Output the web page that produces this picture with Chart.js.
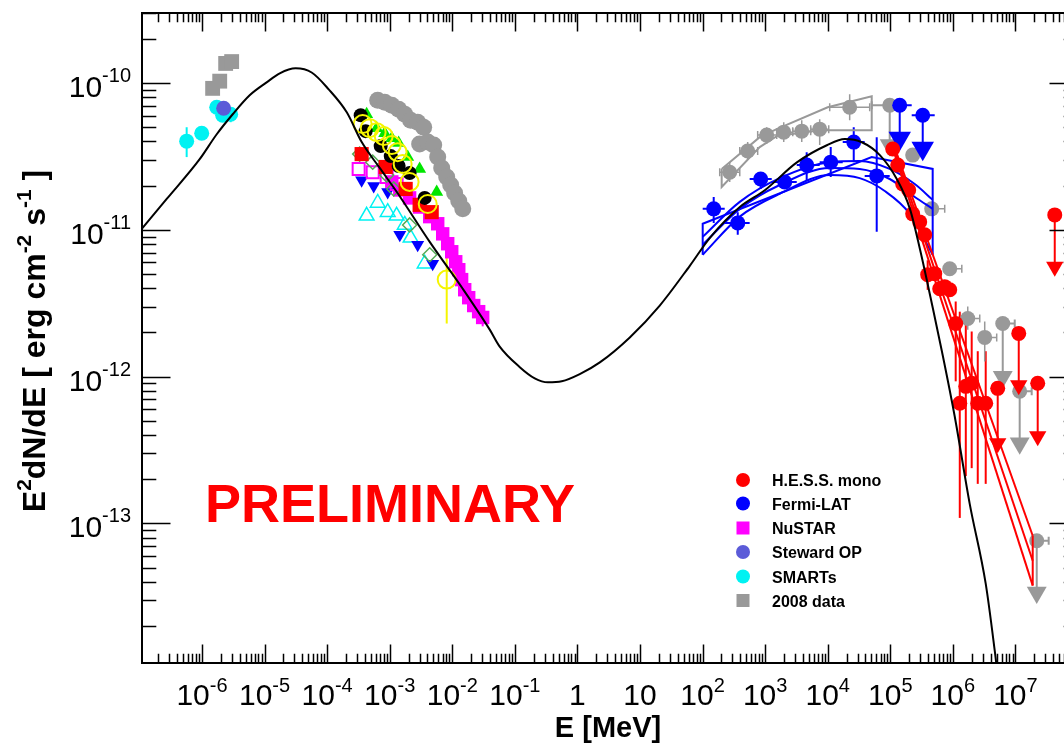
<!DOCTYPE html>
<html><head><meta charset="utf-8">
<style>html,body{margin:0;padding:0;overflow:hidden;background:#fff;width:1064px;height:743px}canvas{display:block}</style>
<script src="https://cdn.jsdelivr.net/npm/chart.js@4.4.1/dist/chart.umd.min.js"></script>
</head><body>
<canvas id="c" width="1100" height="743" style="width:1100px;height:743px"></canvas>
<script>
// ---------- axis settings / tick labels ----------
const X_MIN = 1.1e-7, X_MAX = 1e8, Y_MIN = 1.12e-14, Y_MAX = 3e-10;
const xTickExponents = [-6,-5,-4,-3,-2,-1,0,1,2,3,4,5,6,7];
const yTickExponents = [-13,-12,-11,-10];
const xTitle = 'E [MeV]';
const yTitleParts = [['E',0],['2',1],['dN/dE [ erg cm',0],['-2',1],[' s',0],['-1',1],[' ]',0]];
const watermark = 'PRELIMINARY';
const legendLabels = ['H.E.S.S. mono','Fermi-LAT','NuSTAR','Steward OP','SMARTs','2008 data'];

// ---------- data: [E (MeV), E2dN/dE (erg cm-2 s-1), Elo, Ehi, Flo, Fhi] ----------
const modelCurve = [[1.09e-7,1.016e-11],[2.73e-7,1.623e-11],[9.19e-7,3.03e-11],[1.72e-6,4.48e-11],[3.10e-6,6.13e-11],
 [5.78e-6,8.25e-11],[1.08e-5,1.01e-10],[1.75e-5,1.164e-10],[3.14e-5,1.259e-10],[5.66e-5,1.18e-10],[1.06e-4,9.06e-11],
 [2.06e-4,6.32e-11],[3.57e-4,3.96e-11],[6.92e-4,2.64e-11],[1.30e-3,1.81e-11],
 [4.36e-3,8.28e-12],[1.47e-2,3.97e-12],[3.97e-2,2.09e-12],[5.73e-2,1.60e-12],[0.120,1.16e-12],[0.208,9.73e-13],
 [0.336,9.14e-13],[0.562,9.29e-13],[1.09,1.04e-12],[2.28,1.25e-12],[6.87,1.85e-12],[20.7,3.05e-12],[62.5,5.69e-12],
 [131,8.83e-12],[394,1.43e-11],[988,1.86e-11],[3215,2.88e-11],[9690,3.77e-11],[1.88e4,4.15e-11],[3.51e4,3.95e-11],
 [6.81e4,3.23e-11],[1.27e5,2.22e-11],[2.06e5,1.39e-11],[2.97e5,7.43e-12],[4.80e5,2.91e-12],[6.68e5,1.49e-12],
 [1.07e6,5.37e-13],[1.86e6,1.36e-13],[3.35e6,3.89e-14],[4.67e6,1.36e-14],[5.21e6,9.23e-15]];

const smarts = [[5.69e-7,4.02e-11,null,null,3.13e-11,5.0e-11],[9.9e-7,4.55e-11],[1.72e-6,6.84e-11],[2.14e-6,6.04e-11],
 [2.87e-6,6.13e-11,null,null,5.41e-11,6.84e-11]];
const steward = [[2.22e-6,6.73e-11]];
const opt2008 = [[1.48e-6,9.2e-11],[1.92e-6,1.03e-10],[2.39e-6,1.36e-10],[2.98e-6,1.40e-10]];

const xray2008 = [[6.43e-4,7.63e-11],[8.32e-4,7.40e-11],[1.08e-3,7.06e-11],[1.39e-3,6.63e-11],[1.74e-3,6.13e-11],
 [2.16e-3,5.58e-11],[2.80e-3,5.41e-11],[3.49e-3,5.00e-11],[3.01e-3,3.84e-11],[4.05e-3,3.96e-11],[5.05e-3,3.78e-11],
 [5.85e-3,3.13e-11],[6.78e-3,2.64e-11],[8.15e-3,2.29e-11],[9.44e-3,2.02e-11],[1.09e-2,1.78e-11],[1.27e-2,1.57e-11],[1.47e-2,1.39e-11]];
const xrayBlack = [[3.44e-4,6.04e-11],[4.13e-4,4.70e-11],[7.18e-4,3.72e-11],[1.04e-3,3.18e-11],[1.39e-3,2.72e-11],
 [2.08e-3,2.44e-11],[3.62e-3,1.65e-11]];
const xrayYellow = [[3.70e-4,5.25e-11],[4.79e-4,4.93e-11],[6.19e-4,4.63e-11],[8.02e-4,4.35e-11],[1.08e-3,3.78e-11],
 [1.34e-3,3.38e-11],[1.61e-3,2.81e-11],[2.08e-3,2.12e-11],[4.05e-3,1.50e-11],[8.15e-3,4.58e-12,null,null,2.30e-12,6.56e-12]];
const xrayGreenTri = [[4.28e-4,6.13e-11],[6.19e-4,4.93e-11],[8.32e-4,4.55e-11],[1.08e-3,4.21e-11],[1.39e-3,3.90e-11],
 [1.94e-3,3.13e-11],[3.01e-3,2.60e-11],[5.64e-3,1.81e-11]];
const xrayRedSq = [[3.56e-4,3.28e-11],[8.63e-4,2.68e-11],[1.80e-3,1.90e-11],[3.01e-3,1.48e-11],[4.69e-3,1.32e-11]];
const xrayOpenSq = [[3.19e-4,2.60e-11],[5.35e-4,2.47e-11],[8.95e-4,2.29e-11],[1.29e-3,2.05e-11]];
const xrayBlueTri = [[3.56e-4,2.18e-11],[5.55e-4,1.99e-11],[9.29e-4,1.81e-11],[1.45e-3,9.25e-12],[2.80e-3,7.91e-12],[4.86e-3,5.88e-12]];
const xrayCyanTri = [[4.28e-4,1.245e-11],[6.43e-4,1.525e-11],[9.29e-4,1.32e-11],[1.29e-3,1.245e-11],[1.74e-3,1.08e-11],
 [2.16e-3,8.82e-12],[3.62e-3,5.88e-12]];
const xrayDiamond = [[3.31e-4,3.28e-11],[5.35e-4,2.89e-11],[8.95e-4,2.36e-11],[1.16e-3,1.90e-11],[2.08e-3,1.08e-11],[4.36e-3,6.77e-12]];
const nustar = [[1.08e-3,2.12e-11],[1.45e-3,1.87e-11],[2.08e-3,1.65e-11],[3.01e-3,1.43e-11],[4.36e-3,1.23e-11],
 [5.85e-3,1.10e-11],[7.03e-3,9.39e-12],[8.45e-3,8.04e-12],[9.80e-3,7.09e-12],[1.135e-2,6.06e-12],[1.27e-2,5.35e-12],
 [1.41e-2,4.58e-12],[1.58e-2,3.91e-12],[1.83e-2,3.45e-12],[2.20e-2,3.05e-12],[2.64e-2,2.77e-12],[3.06e-2,2.53e-12,null,null,2.2e-12,2.9e-12]];

const fermiPts = [[150.7,1.39e-11,100.5,226,1.115e-11,1.675e-11],[365,1.115e-11,226,566,9.25e-12,1.32e-11],
 [849,2.22e-11,566,1274,1.90e-11,2.47e-11],[2056,2.12e-11,1274,3199,1.90e-11,2.36e-11],
 [4613,2.76e-11,3199,7447,2.18e-11,3.38e-11],[1.117e4,2.89e-11,7447,1.738e4,2.29e-11,3.66e-11],
 [2.606e4,3.96e-11,1.738e4,3.90e4,2.89e-11,5.00e-11],[6.07e4,2.33e-11,3.90e4,9.79e4,9.69e-12,4.28e-11]];
// upper limits: [E, F(top), F(arrow end), Elo, Ehi]
const fermiUL = [[1.415e5,7.06e-11,4.21e-11,9.79e4,2.20e5],[3.30e5,6.04e-11,3.60e-11,2.20e5,5.13e5]];
const fermiBowBox = [[100.5,6.77e-12],[100.5,1.10e-11],[5.05e4,3.13e-11],[4.76e5,2.60e-11],[4.76e5,6.77e-12]];
const fermiBowU = [[100.5,8.96e-12],[393,1.55e-11],[1710,2.25e-11],[1.076e4,2.89e-11],[3.24e4,2.94e-11],[9.79e4,2.60e-11],[2.46e5,2.05e-11],[4.76e5,1.60e-11]];
const fermiBowM = [[100.5,7.91e-12],[393,1.39e-11],[1710,2.02e-11],[1.076e4,2.64e-11],[3.24e4,2.60e-11],[9.79e4,2.22e-11],[2.46e5,1.675e-11],[4.76e5,1.39e-11]];
const fermiBowL = [[100.5,6.77e-12],[393,1.23e-11],[1710,1.76e-11],[1.076e4,2.36e-11],[3.24e4,2.25e-11],[8.15e4,1.84e-11],[2.05e5,1.285e-11],[4.76e5,6.77e-12]];

const lat2008Pts = [[271.5,2.47e-11,188,393,2.12e-11,2.89e-11],[526,3.44e-11,393,760,2.99e-11,3.96e-11],
 [1059,4.42e-11,760,1531,3.84e-11,5.0e-11],[1982,4.63e-11,1531,2760,3.96e-11,5.41e-11],
 [3846,4.70e-11,2760,5346,3.96e-11,5.58e-11],[7447,4.85e-11,5346,1.038e4,3.78e-11,5.66e-11],
 [2.244e4,6.84e-11,1.076e4,4.69e4,5.58e-11,8.38e-11],[2.28e5,3.23e-11],
 [4.59e5,1.39e-11,null,7.41e5,null,null],[8.91e5,5.43e-12,null,1.39e6,null,null],
 [1.73e6,2.49e-12,null,2.69e6,2.09e-12,3.0e-12],[3.23e6,1.85e-12,null,5.02e6,1.27e-12,2.37e-12]];
const lat2008UL = [[9.79e4,7.06e-11,3.78e-11,5.05e4,1.70e5],[6.27e6,2.30e-12,1.00e-12,null,9.75e6],
 [1.17e7,7.95e-13,3.52e-13,null,1.82e7],[2.19e7,7.62e-14,3.38e-14,null,3.40e7]];
const lat2008BowUpper = [[202,2.60e-11],[819,4.28e-11],[1531,4.85e-11],[1.0e4,6.84e-11],[5.05e4,8.12e-11]];
const lat2008BowLower = [[202,1.96e-11],[819,3.66e-11],[1531,4.35e-11],[7447,4.77e-11],[5.05e4,4.77e-11]];

const hessPts = [[1.094e5,3.55e-11],[1.315e5,2.76e-11],[1.58e5,2.05e-11],[1.97e5,1.87e-11],[2.28e5,1.285e-11],
 [2.95e5,1.133e-11],[3.55e5,9.25e-12],[3.96e5,4.95e-12,null,null,3.9e-12,6.2e-12],[5.13e5,5.03e-12],[6.17e5,3.97e-12],
 [7.41e5,4.10e-12],[8.91e5,3.91e-12],[1.11e6,2.30e-12,null,null,9.29e-13,3.25e-12],
 [1.29e6,6.59e-13,null,null,1.09e-13,2.77e-12],[1.61e6,8.59e-13,null,null,2.10e-13,2.37e-12],
 [2.00e6,9.01e-13,null,null,2.38e-13,2.03e-12],[2.50e6,6.59e-13,null,null,1.86e-13,1.49e-12],
 [3.35e6,6.59e-13,null,null,1.86e-13,1.49e-12]];
const hessUL = [[5.21e6,8.32e-13,3.52e-13],[1.13e7,1.97e-12,8.73e-13],[2.27e7,9.01e-13,3.93e-13],[4.25e7,1.264e-11,5.61e-12]];
const hessBowUpper = [[1.094e5,3.96e-11],[1.89e7,8.24e-14]];
const hessBowMid = [[1.094e5,3.78e-11],[1.89e7,5.57e-14]];
const hessBowLower = [[1.094e5,3.60e-11],[1.89e7,3.77e-14]];

// ---------- colours ----------
const C = {hess:'#ff0000', fermi:'#0000ff', nustar:'#ff00ff', steward:'#5b5bd8', smarts:'#00f2f2', gray:'#999999',
  yellow:'#f5f500', green:'#00e600', diamond:'#55aa55', black:'#000000'};

// ---------- helpers ----------
const P = a => a.map(r => ({x:r[0], y:r[1]}));
const ERR = a => a.map(r => r.length > 2 ? [r[2], r[3], r[4], r[5]] : null);
function mk(arr, o) {
  const filled = o.open ? 'rgba(0,0,0,0)' : o.color;
  return {type:'scatter', data:P(arr), showLine:false, pointStyle:o.style||'circle', pointRadius:o.r||7.5,
    pointHoverRadius:o.r||7.5, pointRotation:o.rot||0, pointBackgroundColor:filled, pointBorderColor:o.color,
    pointBorderWidth:o.open ? (o.bw||2) : 0, backgroundColor:filled, borderColor:o.color,
    errBars:o.err||null, errColor:o.color, errWidth:o.ew||2, errCaps:o.caps||false};
}
function ln(arr, color, o) {
  o = o || {};
  return {type:'line', data:P(arr), borderColor:color, borderWidth:o.w||2, pointRadius:0, pointHoverRadius:0,
    fill:false, tension:0, cubicInterpolationMode:o.smooth ? 'monotone' : 'default'};
}
function ulSets(ul, color, rc, rt) {
  return [
    mk(ul.map(u => [u[0], u[2]]), {color, style:'triangle', rot:180, r:rt}),
    mk(ul.map(u => [u[0], u[1]]), {color, r:rc, err:ul.map(u => [u[3] === undefined ? null : u[3], u[4] === undefined ? null : u[4], u[2], u[1]]), caps:color === C.gray})
  ];
}

const datasets = [
  ln(modelCurve, '#000', {smooth:true}),
  ...ulSets(hessUL, C.hess, 7.5, 10),
  mk(hessPts, {color:C.hess, err:ERR(hessPts)}),
  ln(hessBowUpper, C.hess), ln(hessBowMid, C.hess), ln(hessBowLower, C.hess),
  ln([hessBowUpper[1], hessBowLower[1]], C.hess),
  ...ulSets(fermiUL, C.fermi, 7.5, 13),
  mk(fermiPts, {color:C.fermi, err:ERR(fermiPts)}),
  ln(fermiBowBox, C.fermi), ln(fermiBowU, C.fermi, {smooth:true}), ln(fermiBowM, C.fermi, {smooth:true}), ln(fermiBowL, C.fermi, {smooth:true}),
  ...ulSets(lat2008UL, C.gray, 7.5, 11.5),
  Object.assign(mk(lat2008Pts, {color:C.gray, err:ERR(lat2008Pts), caps:true}), {errWidth:1.5}),
  ln(lat2008BowUpper.concat(lat2008BowLower.slice().reverse(), [lat2008BowUpper[0]]), C.gray),
  mk(xrayYellow, {color:C.yellow, open:true, r:9, err:ERR(xrayYellow)}),
  mk(xrayBlack, {color:C.black, r:7}),
  mk(xrayGreenTri, {color:C.green, style:'triangle', r:7.5}),
  mk(xrayRedSq, {color:C.hess, style:'rect', r:10}),
  mk(xrayDiamond, {color:C.diamond, style:'rectRot', open:true, r:7, bw:1.5}),
  mk(xrayOpenSq, {color:C.nustar, style:'rect', open:true, r:8.5}),
  mk(xrayBlueTri, {color:C.fermi, style:'triangle', rot:180, r:7.5}),
  mk(xrayCyanTri, {color:C.smarts, style:'triangle', open:true, r:8.5, bw:1.5}),
  mk(nustar, {color:C.nustar, style:'rect', r:9.5, err:ERR(nustar)}),
  mk(xray2008, {color:C.gray, r:8.5}),
  mk(steward, {color:C.steward}),
  mk(smarts, {color:C.smarts, err:ERR(smarts)}),
  mk(opt2008, {color:C.gray, style:'rect', r:10.5}),
];

const FONT = "'Liberation Sans', Arial, Helvetica, sans-serif";

const errPlugin = {
  id:'errbars',
  beforeDatasetsDraw(chart) {
    const {ctx, chartArea:a, scales:{x:xs, y:ys}} = chart;
    ctx.save();
    ctx.beginPath(); ctx.rect(a.left, a.top, a.right - a.left, a.bottom - a.top); ctx.clip();
    chart.data.datasets.forEach(ds => {
      if (!ds.errBars) return;
      ctx.strokeStyle = ds.errColor; ctx.lineWidth = ds.errWidth;
      ds.data.forEach((p, i) => {
        const e = ds.errBars[i]; if (!e) return;
        const px = xs.getPixelForValue(p.x), py = ys.getPixelForValue(p.y);
        ctx.beginPath();
        if (e[0] != null || e[1] != null) {
          const x0 = xs.getPixelForValue(e[0] != null ? e[0] : p.x), x1 = xs.getPixelForValue(e[1] != null ? e[1] : p.x);
          ctx.moveTo(x0, py); ctx.lineTo(x1, py);
          if (ds.errCaps) { if (e[0] != null) { ctx.moveTo(x0, py - 4); ctx.lineTo(x0, py + 4); } if (e[1] != null) { ctx.moveTo(x1, py - 4); ctx.lineTo(x1, py + 4); } }
        }
        if (e[2] != null || e[3] != null) {
          const y0 = ys.getPixelForValue(e[2] != null ? e[2] : p.y), y1 = ys.getPixelForValue(e[3] != null ? e[3] : p.y);
          ctx.moveTo(px, y0); ctx.lineTo(px, y1);
        }
        ctx.stroke();
      });
    });
    ctx.restore();
  }
};

function drawPow(ctx, base, exp, x, y, align, bigSize, supSize, supDy) {
  ctx.font = bigSize + 'px ' + FONT;
  const w1 = ctx.measureText(base).width;
  let w2 = 0;
  if (exp !== null) { ctx.font = supSize + 'px ' + FONT; w2 = ctx.measureText(exp).width; }
  const total = w1 + w2;
  let x0 = align === 'center' ? x - total / 2 : x - total;
  ctx.textAlign = 'left'; ctx.textBaseline = 'alphabetic';
  ctx.font = bigSize + 'px ' + FONT; ctx.fillText(base, x0, y);
  if (exp !== null) { ctx.font = supSize + 'px ' + FONT; ctx.fillText(exp, x0 + w1, y + supDy); }
}

const framePlugin = {
  id:'frame',
  afterDraw(chart) {
    const {ctx, chartArea:a, scales:{x:xs, y:ys}} = chart;
    ctx.save();
    ctx.strokeStyle = '#000'; ctx.fillStyle = '#000';
    ctx.lineWidth = 1.5;
    ctx.beginPath();
    for (let k = -8; k <= 8; k++) for (let m = 1; m <= 9; m++) {
      const v = m * Math.pow(10, k);
      if (v >= X_MIN && v <= X_MAX) {
        const px = Math.round(xs.getPixelForValue(v)) + 0.5, len = m === 1 ? 18.5 : 9.3;
        ctx.moveTo(px, a.bottom); ctx.lineTo(px, a.bottom - len);
        ctx.moveTo(px, a.top); ctx.lineTo(px, a.top + len);
      }
    }
    for (let k = -15; k <= -9; k++) for (let m = 1; m <= 9; m++) {
      const v = m * Math.pow(10, k);
      if (v >= Y_MIN && v <= Y_MAX) {
        const py = Math.round(ys.getPixelForValue(v)) + 0.5, len = m === 1 ? 28.5 : 14.3;
        ctx.moveTo(a.left, py); ctx.lineTo(a.left + len, py);
        ctx.moveTo(a.right, py); ctx.lineTo(a.right - len, py);
      }
    }
    ctx.stroke();
    ctx.lineWidth = 2;
    ctx.strokeRect(a.left, a.top, a.right - a.left, a.bottom - a.top);
    xTickExponents.forEach(k => {
      const px = xs.getPixelForValue(Math.pow(10, k));
      if (k === 0) drawPow(ctx, '1', null, px, 705, 'center', 30, 20, 0);
      else if (k === 1) drawPow(ctx, '10', null, px, 705, 'center', 30, 20, 0);
      else drawPow(ctx, '10', String(k), px, 705, 'center', 30, 20, -13);
    });
    yTickExponents.forEach(k => {
      const py = ys.getPixelForValue(Math.pow(10, k));
      drawPow(ctx, '10', String(k), 131, py + 14, 'right', 30, 20, -15);
    });
    ctx.font = 'bold 29px ' + FONT; ctx.textAlign = 'center'; ctx.textBaseline = 'alphabetic';
    ctx.fillText(xTitle, 608, 737);
    ctx.save();
    ctx.translate(45, 341); ctx.rotate(-Math.PI / 2);
    let tw = 0;
    yTitleParts.forEach(([t, s]) => { ctx.font = 'bold ' + (s ? 21 : 32) + 'px ' + FONT; tw += ctx.measureText(t).width; });
    let cx = -tw / 2;
    ctx.textAlign = 'left';
    yTitleParts.forEach(([t, s]) => {
      ctx.font = 'bold ' + (s ? 21 : 32) + 'px ' + FONT;
      ctx.fillText(t, cx, s ? -14 : 0); cx += ctx.measureText(t).width;
    });
    ctx.restore();
    ctx.fillStyle = '#ff0000'; ctx.font = 'bold 54px ' + FONT; ctx.textAlign = 'left';
    ctx.fillText(watermark, 205, 522);
    const styles = [[C.hess,'c'],[C.fermi,'c'],[C.nustar,'s'],[C.steward,'c'],[C.smarts,'c'],[C.gray,'s']];
    const ly = [480, 503.5, 528, 552, 576.5, 600.5];
    legendLabels.forEach((lab, i) => {
      const [col, st] = styles[i];
      ctx.fillStyle = col;
      if (st === 'c') { ctx.beginPath(); ctx.arc(743, ly[i], 7, 0, Math.PI * 2); ctx.fill(); }
      else ctx.fillRect(736.5, ly[i] - 6.5, 13, 13);
      ctx.fillStyle = '#000'; ctx.font = 'bold 16px ' + FONT; ctx.textAlign = 'left';
      ctx.fillText(lab, 772, ly[i] + 6);
    });
    ctx.restore();
  }
};

new Chart(document.getElementById('c').getContext('2d'), {
  data:{datasets},
  options:{
    responsive:false, animation:false, devicePixelRatio:1,
    layout:{padding:{top:11, right:22, left:0, bottom:0}},
    plugins:{legend:{display:false}, tooltip:{enabled:false}},
    events:[],
    scales:{
      x:{type:'logarithmic', position:'bottom', min:X_MIN, max:X_MAX, grid:{display:false}, border:{display:false},
         ticks:{display:false}, afterFit:s => { s.height = 80; }},
      y:{type:'logarithmic', position:'left', min:Y_MIN, max:Y_MAX, grid:{display:false}, border:{display:false},
         ticks:{display:false}, afterFit:s => { s.width = 142; }}
    }
  },
  plugins:[errPlugin, framePlugin]
});
</script>
</body></html>
